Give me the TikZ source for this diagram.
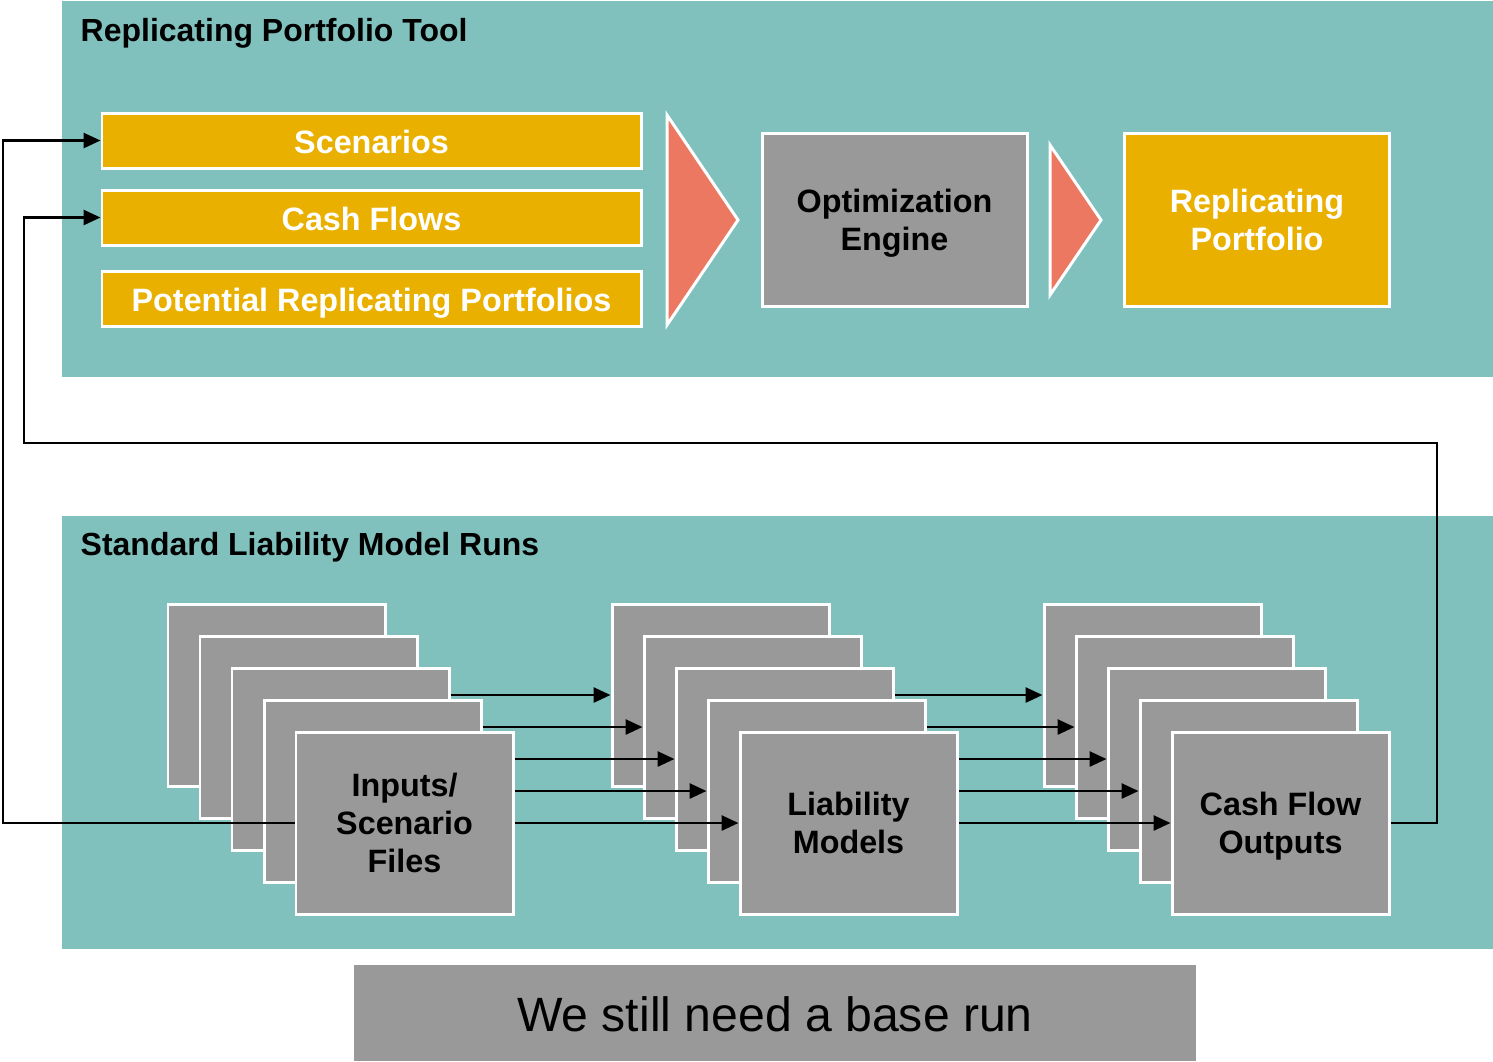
\documentclass[tikz,border=0pt]{standalone}
\usepackage{fontspec}
\setmainfont{Liberation Sans}
\usetikzlibrary{arrows.meta}
\definecolor{rpteal}{HTML}{80C1BE}
\definecolor{rpgold}{HTML}{EAB000}
\definecolor{rpgrey}{HTML}{999999}
\definecolor{rpsalmon}{HTML}{EC7862}
\pgfdeclarelayer{panel}
\pgfdeclarelayer{rstack}
\pgfdeclarelayer{rlinks}
\pgfdeclarelayer{mstack}
\pgfdeclarelayer{mlinks}
\pgfsetlayers{panel,rstack,rlinks,mstack,mlinks,main}

\begin{document}
\begin{tikzpicture}[
  font=\bfseries\fontsize{9.2}{10.8}\selectfont,
  >={Triangle[length=0.17cm, width=0.15cm]},
  panel/.style={fill=rpteal, anchor=north west, inner sep=0pt,
    minimum width=14.32cm},
  paneltitle/.style={anchor=base west, inner sep=0pt, text=black,
    font=\bfseries\fontsize{9.1}{10.8}\selectfont},
  input/.style={draw=white, line width=0.85pt, fill=rpgold, text=white,
    minimum width=5.39cm, minimum height=0.55cm, inner sep=0pt,
    text height=7.3pt, text depth=0pt},
  twoline/.style={text height=17.4pt, text depth=0pt},
  threeline/.style={text height=28.2pt, text depth=0pt},
  engine/.style={draw=white, line width=0.85pt, fill=rpgrey, text=black,
    minimum width=2.65cm, minimum height=1.73cm, align=center, inner sep=0pt,
    twoline},
  output/.style={engine, fill=rpgold, text=white},
  chevron/.style={draw=white, line width=0.85pt, fill=rpsalmon},
  run/.style={draw=white, line width=0.85pt, fill=rpgrey, text=black,
    minimum width=2.17cm, minimum height=1.82cm, align=center, inner sep=0pt},
  feed/.style={->, line width=0.8pt, draw=black},
  note/.style={fill=rpgrey, minimum width=8.42cm, minimum height=0.96cm,
    inner sep=0pt, text height=10.6pt, text depth=0pt,
    font=\fontsize{13.7}{16}\selectfont}
]
  \useasboundingbox (0,0) rectangle (14.93,-10.61);

  \begin{pgfonlayer}{panel}
    \node[panel, minimum height=3.76cm] (toppanel) at (0.61,0) {};
    \node[panel, minimum height=4.33cm] (botpanel) at (0.61,-5.15) {};
  \end{pgfonlayer}
  \node[paneltitle] (toptitle) at (0.80,-0.41) {Replicating Portfolio Tool};
  \node[paneltitle] (bottitle) at (0.80,-5.557) {Standard Liability Model Runs};

  \node[input] (scen) at (3.715,-1.405) {Scenarios};
  \node[input] (cash) at (3.715,-2.175) {Cash Flows};
  \node[input] (potential) at (3.715,-2.985) {Potential Replicating Portfolios};

  \path[chevron] (6.67,-1.15) -- (7.38,-2.20) -- (6.67,-3.25) -- cycle;
  \node[engine] (optim) at (8.945,-2.195) {Optimization\\Engine};
  \path[chevron] (10.50,-1.45) -- (11.01,-2.20) -- (10.50,-2.95) -- cycle;
  \node[output] (replic) at (12.57,-2.195) {Replicating\\Portfolio};

  \foreach \k in {1,...,4} {
    \pgfmathsetmacro{\dx}{0.32*(\k-1)}
    \pgfmathsetmacro{\yy}{-6.95-0.32*(\k-1)}
    \begin{pgfonlayer}{rstack}
      \node[run] (r\k) at (11.525+\dx,\yy) {};
    \end{pgfonlayer}
    \begin{pgfonlayer}{mstack}
      \node[run] (m\k) at (7.205+\dx,\yy) {};
    \end{pgfonlayer}
    \node[run] (l\k) at (2.765+\dx,\yy) {};
  }
  \begin{pgfonlayer}{rstack}
    \node[run, twoline] (r5) at (12.805,-8.23) {Cash Flow\\Outputs};
  \end{pgfonlayer}
  \begin{pgfonlayer}{mstack}
    \node[run, twoline] (m5) at (8.485,-8.23) {Liability\\Models};
  \end{pgfonlayer}
  \node[run, threeline] (l5) at (4.045,-8.23) {Inputs/\\Scenario\\Files};

  \foreach \k in {1,...,5} {
    \begin{pgfonlayer}{mlinks}
      \draw[feed] (l\k.east) -- (m\k.west);
    \end{pgfonlayer}
    \begin{pgfonlayer}{rlinks}
      \draw[feed] (m\k.east) -- (r\k.west);
    \end{pgfonlayer}
  }

  \coordinate (lanea) at (0.03,-5);
  \coordinate (laneb) at (14.37,-4.43);
  \coordinate (lanec) at (0.24,-4.43);
  \draw[feed] (l5.west) -| (lanea) |- (scen.west);
  \draw[feed] (r5.east) -| (laneb) -- (lanec) |- (cash.west);

  \node[note] (baserun) at (7.75,-10.13) {We still need a base run};
\end{tikzpicture}
\end{document}
